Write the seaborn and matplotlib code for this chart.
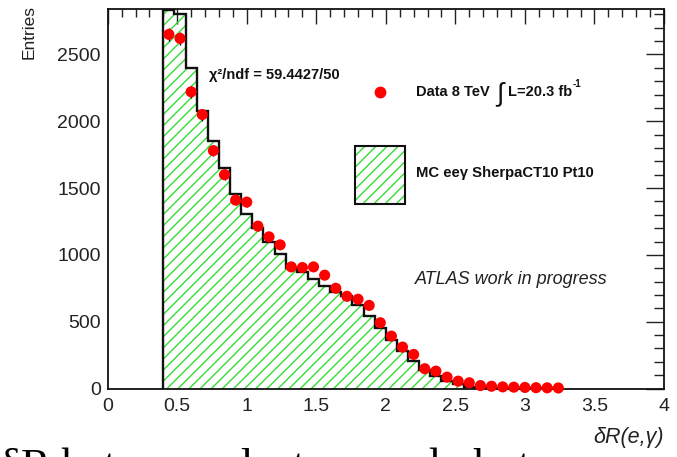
import numpy as np
import pandas as pd
import matplotlib
matplotlib.use("Agg")
import matplotlib.pyplot as plt
import seaborn as sns
from matplotlib.ticker import MultipleLocator
from matplotlib.patches import Rectangle
from matplotlib.lines import Line2D

# ---------------- data ----------------
mc_edges = [round(0.40 + 0.08 * i, 2) for i in range(37)]       # 36 bins of width 0.08
mc_values = [2835, 2805, 2400, 2075, 1855, 1650, 1455, 1305, 1200, 1100,
             1005, 905, 870, 820, 770, 725, 690, 625, 545, 455,
             360, 280, 205, 135, 92, 55, 30, 12, 6, 4,
             3, 2, 1, 1, 1, 0]
data_x = [round(0.44 + 0.08 * i, 2) for i in range(36)]
data_y = [2650, 2620, 2220, 2050, 1780, 1600, 1410, 1395, 1215, 1135,
          1075, 910, 905, 910, 848, 750, 690, 668, 622, 492,
          392, 310, 255, 148, 130, 85, 55, 43, 22, 17,
          12, 10, 8, 6, 5, 4]
x_ticks = [0, 0.5, 1, 1.5, 2, 2.5, 3, 3.5, 4]
x_tick_labels = ["0", "0.5", "1", "1.5", "2", "2.5", "3", "3.5", "4"]
y_ticks = [0, 500, 1000, 1500, 2000, 2500]
y_tick_labels = ["0", "500", "1000", "1500", "2000", "2500"]

mc_centers = [e + 0.04 for e in mc_edges[:-1]]
mc_df = pd.DataFrame({"dR": mc_centers, "w": mc_values})
data_df = pd.DataFrame({"dR": data_x, "n": data_y})

GREEN = "#33dd33"

sns.set_theme(style="white")
plt.rcParams["font.family"] = ["Liberation Sans", "DejaVu Sans"]
plt.rcParams["hatch.color"] = GREEN
plt.rcParams["hatch.linewidth"] = 1.0

W, H = 677, 457
fig = plt.figure(figsize=(W / 100, H / 100), dpi=100)
fig.patch.set_facecolor("white")
ax = fig.add_axes([107.7 / W, 1 - 388.5 / H, (664 - 107.7) / W, (388.5 - 9) / H])
ax.set_facecolor("white")

# MC hatched histogram
sns.histplot(data=mc_df, x="dR", weights="w", bins=mc_edges, element="step",
             fill=True, color=GREEN, facecolor=(1, 1, 1, 0), edgecolor=GREEN,
             hatch="///", linewidth=0, ax=ax, zorder=1)
ax.stairs(mc_values, mc_edges, baseline=0, fill=False, color="#111111",
          linewidth=1.7, zorder=2)

# data points
ax.errorbar(data_df["dR"], data_df["n"], yerr=np.sqrt(data_df["n"]), fmt="none",
            ecolor="black", elinewidth=1.0, zorder=3)
sns.scatterplot(data=data_df, x="dR", y="n", color="red", s=64,
                edgecolor="none", ax=ax, zorder=4, clip_on=False)

ax.set_xlim(0, 4)
ax.set_ylim(0, 2840)
ax.set_xlabel("")
ax.set_ylabel("")
ax.set_xticks(x_ticks)
ax.set_xticklabels(x_tick_labels)
ax.set_yticks(y_ticks)
ax.set_yticklabels(y_tick_labels)
ax.xaxis.set_minor_locator(MultipleLocator(0.1))
ax.yaxis.set_minor_locator(MultipleLocator(100))
ax.tick_params(which="both", direction="in", top=True, right=True,
               colors="#222222", labelsize=14, width=1.0)
ax.tick_params(axis="x", which="major", length=11, pad=7)
ax.tick_params(axis="x", which="minor", length=6)
ax.tick_params(axis="y", which="major", length=13, pad=5)
ax.tick_params(axis="y", which="minor", length=7)
for s in ax.spines.values():
    s.set_color("#111111")
    s.set_linewidth(1.3)


def ftext(px, py, s, **kw):
    return fig.text(px / W, 1 - py / H, s, **kw)


ftext(29, 5, "Entries", rotation=90, ha="center", va="top", fontsize=12.5,
      color="#222222")
ftext(664, 437, "δR(e,γ)", ha="right", va="center", fontsize=15.5,
      style="italic", color="#222222")

ftext(209, 75, "χ²/ndf = 59.4427/50", ha="left", va="center", fontsize=10.5,
      fontweight="bold", color="#111111")

# legend
fig.add_artist(Line2D([380 / W], [1 - 92 / H], marker="o", color="red",
                      markersize=7.5, linestyle="none", transform=fig.transFigure))
ftext(416, 92, "Data 8 TeV", ha="left", va="center", fontsize=10.5,
      fontweight="bold", color="#111111")
ftext(500, 94, "∫", ha="center", va="center", fontsize=19, color="#111111")
ftext(508, 92, "L=20.3 fb", ha="left", va="center", fontsize=10.5,
      fontweight="bold", color="#111111")
ftext(573, 84, "-1", ha="left", va="center", fontsize=7,
      fontweight="bold", color="#111111")

fig.add_artist(Rectangle((355 / W, 1 - 204 / H), 50 / W, 58 / H,
                         transform=fig.transFigure, facecolor="white",
                         edgecolor=GREEN, hatch="///", linewidth=0))
fig.add_artist(Rectangle((355 / W, 1 - 204 / H), 50 / W, 58 / H,
                         transform=fig.transFigure, facecolor="none",
                         edgecolor="#111111", linewidth=1.5))
ftext(416, 173, "MC eeγ SherpaCT10 Pt10", ha="left", va="center",
      fontsize=10.7, fontweight="bold", color="#111111")

ftext(415, 280, "ATLAS work in progress", ha="left", va="center",
      fontsize=13, style="italic", color="#222222")

# partially visible caption text below the figure (only tops of tall letters show)
fig.text(0.0, 1 - 479 / H, "δR between electron and photon",
         ha="left", va="baseline", fontsize=32, family="Liberation Serif",
         color="black")

fig.savefig("out.png", dpi=100, facecolor="white")
